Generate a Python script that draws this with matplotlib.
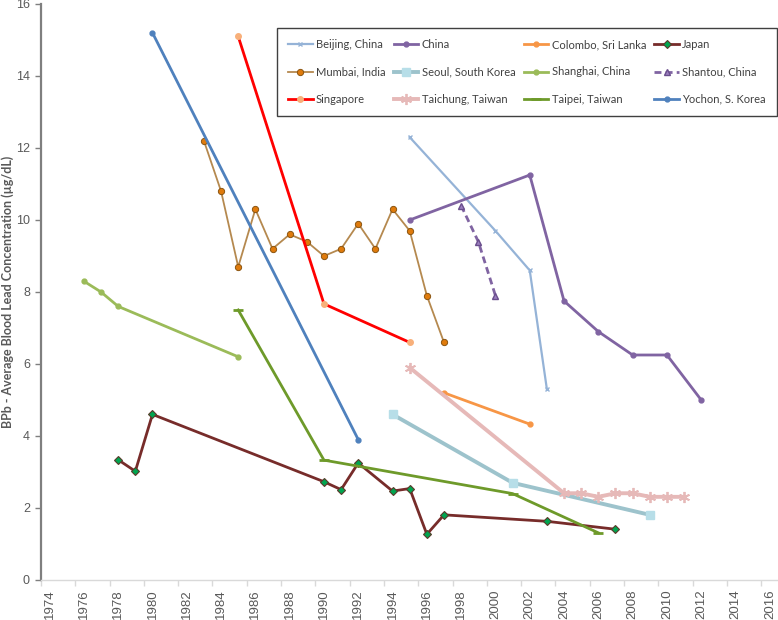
#
# Average blood lead concentration (BPb) in Asian cities, 1974-2016
#

### Needed libraries ###

import matplotlib
matplotlib.use('Agg')
import matplotlib.pyplot as plt
from matplotlib.ticker import FixedLocator

plt.rcParams['font.family'] = ['Lato', 'DejaVu Sans']


### Data ###

beijing_years = [1995, 2000, 2002, 2003]
beijing_vals = [12.3, 9.7, 8.6, 5.3]

china_years = [1995, 2002, 2004, 2006, 2008, 2010, 2012]
china_vals = [10.0, 11.25, 7.75, 6.9, 6.25, 6.25, 5.0]

colombo_years = [1997, 2002]
colombo_vals = [5.2, 4.33]

japan_years = [1978, 1979, 1980, 1990, 1991, 1992, 1994, 1995, 1996, 1997, 2003, 2007]
japan_vals = [3.34, 3.02, 4.6, 2.73, 2.51, 3.25, 2.47, 2.54, 1.27, 1.81, 1.63, 1.41]

mumbai_years = list(range(1983, 1998))
mumbai_vals = [12.2, 10.8, 8.7, 10.3, 9.2, 9.6, 9.4, 9.0, 9.2, 9.9, 9.2, 10.3, 9.7, 7.9, 6.6]

seoul_years = [1994, 2001, 2009]
seoul_vals = [4.6, 2.7, 1.81]

shanghai_years = [1976, 1977, 1978, 1985]
shanghai_vals = [8.3, 8.0, 7.6, 6.2]

shantou_years = [1998, 1999, 2000]
shantou_vals = [10.4, 9.4, 7.9]

singapore_years = [1985, 1990, 1995]
singapore_vals = [15.1, 7.67, 6.6]

taichung_years = [1995, 2004, 2005, 2006, 2007, 2008, 2009, 2010, 2011]
taichung_vals = [5.9, 2.41, 2.41, 2.31, 2.41, 2.41, 2.31, 2.31, 2.31]

taipei_years = [1985, 1990, 2001, 2006]
taipei_vals = [7.5, 3.33, 2.4, 1.31]

yochon_years = [1980, 1992]
yochon_vals = [15.2, 3.9]

label_years = list(range(1974, 2017, 2))


### Figure ###

fig = plt.figure(figsize=(7.78, 6.2), dpi=100)
ax = fig.add_axes([41 / 778, 40 / 620, 737.4 / 778, 576 / 620])

# Plot each series
lines = {}
lines['Beijing, China'], = ax.plot(beijing_years, beijing_vals, color='#95B3D7', lw=1.6,
                                   marker='x', ms=3.5, mew=1)
lines['China'], = ax.plot(china_years, china_vals, color='#8064A2', lw=2,
                          marker='o', ms=3.5)
lines['Colombo, Sri Lanka'], = ax.plot(colombo_years, colombo_vals, color='#F79646', lw=2,
                                       marker='o', ms=3.5)
lines['Japan'], = ax.plot(japan_years, japan_vals, color='#772C2A', lw=2,
                          marker='D', ms=4.5, mfc='#00A550', mec='#5A3A2A', mew=0.8)
lines['Mumbai, India'], = ax.plot(mumbai_years, mumbai_vals, color='#B5894F', lw=1.3,
                                  marker='o', ms=4.5, mfc='#E07B0C', mec='#8A5410', mew=0.7)
lines['Seoul, South Korea'], = ax.plot(seoul_years, seoul_vals, color='#9DC3CC', lw=2.8,
                                       marker='s', ms=6, mfc='#B7DEE8', mec='#B7DEE8')
lines['Shanghai, China'], = ax.plot(shanghai_years, shanghai_vals, color='#9BBB59', lw=2,
                                    marker='o', ms=3.5)
lines['Shantou, China'], = ax.plot(shantou_years, shantou_vals, color='#8064A2', lw=2,
                                   ls=(0, (2.5, 1.5)), marker='^', ms=5,
                                   mfc='#9B7FC0', mec='#6A4E8C')
lines['Singapore'], = ax.plot(singapore_years, singapore_vals, color='#FF0000', lw=2,
                              marker='o', ms=4, mfc='#F8B07A', mec='#F8B07A')
lines['Taichung, Taiwan'], = ax.plot(taichung_years, taichung_vals, color='#E6B9B8', lw=2.8,
                                     marker=(6, 2, 0), ms=8, mew=1.3)
lines['Taipei, Taiwan'], = ax.plot(taipei_years, taipei_vals, color='#6E9A2A', lw=2,
                                   marker='_', ms=7, mew=2)
lines['Yochon, S. Korea'], = ax.plot(yochon_years, yochon_vals, color='#4F81BD', lw=2,
                                     marker='o', ms=3.5)

# Axis ranges: each year is one category slot
ax.set_xlim(1973.5, 2016.5)
ax.set_ylim(0, 16)

# Year labels at slot centres, tick marks at slot edges
ax.xaxis.set_major_locator(FixedLocator(label_years))
ax.xaxis.set_minor_locator(FixedLocator([y - 0.5 for y in label_years]))
ax.tick_params(axis='x', which='major', length=0, pad=7, labelrotation=90,
               labelsize=9.5, labelcolor='#595959')
ax.tick_params(axis='x', which='minor', length=4, width=1, color='#D9D9D9')
ax.set_yticks(range(0, 17, 2))
ax.tick_params(axis='y', length=4, width=1, color='#7F7F7F', pad=4,
               labelsize=9, labelcolor='#595959')
for lab in ax.get_xticklabels() + ax.get_yticklabels():
    lab.set_fontfamily('Liberation Sans')

# Spines
ax.spines['top'].set_visible(False)
ax.spines['right'].set_visible(False)
ax.spines['left'].set_color('#7F7F7F')
ax.spines['left'].set_linewidth(1.6)
ax.spines['bottom'].set_color('#D9D9D9')
ax.spines['bottom'].set_linewidth(1)

# Vertical axis label, placed by hand next to the tick labels
fig.text(8 / 778, 1 - 292 / 620, 'BPb - Average Blood Lead Concentration (µg/dL)',
         rotation=90, ha='center', va='center', fontsize=9,
         fontweight='bold', color='#595959')

# Legend laid out row by row (matplotlib fills columns first)
order = ['Beijing, China', 'Mumbai, India', 'Singapore',
         'China', 'Seoul, South Korea', 'Taichung, Taiwan',
         'Colombo, Sri Lanka', 'Shanghai, China', 'Taipei, Taiwan',
         'Japan', 'Shantou, China', 'Yochon, S. Korea']
leg = ax.legend([lines[k] for k in order], order, ncol=4, loc='upper left',
                bbox_to_anchor=(0.32, 0.958, 0.678, 0.0), mode='expand',
                fontsize=8, frameon=True, fancybox=False, edgecolor='#404040',
                framealpha=1, handlelength=2.2, handletextpad=0.3,
                labelspacing=1.45, borderpad=1.0, columnspacing=0.3,
                borderaxespad=0)
leg.get_frame().set_linewidth(1)
for t in leg.get_texts():
    t.set_color('#404040')

plt.savefig('out.png', dpi=100)
